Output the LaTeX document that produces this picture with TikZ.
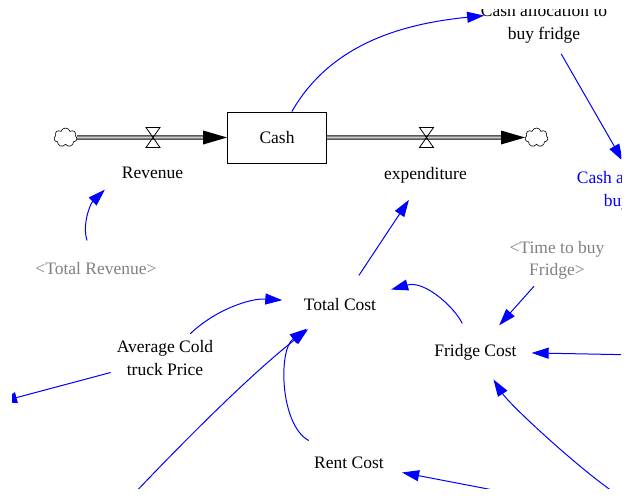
\documentclass[tikz,border=0pt]{standalone}
\usepackage{fontspec}
\setmainfont{Liberation Serif}
\usetikzlibrary{shapes.geometric,shapes.symbols,arrows.meta}

\definecolor{linkblue}{RGB}{0,0,255}
\definecolor{shadowgray}{RGB}{128,128,128}
\definecolor{pipefill}{RGB}{205,205,205}

\begin{document}
\begin{tikzpicture}[x=1pt,y=-1pt,
  every node/.style={font=\fontsize{17.5}{22.5}\selectfont},
  % invisible ellipse round each variable: links end on it
  var/.style={ellipse, inner xsep=-40pt, inner ysep=-20pt, align=center},
  ghost/.style={var, text=shadowgray},
  link/.style={draw=linkblue, line width=1pt, -{Triangle[length=17pt,width=11pt]}},
  pipe/.style={draw=black, line width=1pt, double=pipefill, double distance=2.4pt},
  valve/.style={draw=black, line width=0.8pt},
  cloudnode/.style={cloud, cloud puffs=7, draw=black, line width=0.6pt, fill=white,
    minimum width=23pt, minimum height=19pt, inner sep=0pt},
  stock/.style={draw=black, line width=0.8pt, minimum width=99pt, minimum height=51pt, inner sep=0pt}
]
\useasboundingbox (0,0) rectangle (628,495);
\clip (12,10) rectangle (621,488);

% stock, clouds and valves
\node[stock] (cash) at (277,137.5) {Cash};
\node[cloudnode] (srcL) at (65.5,137.5) {};
\node[cloudnode] (sinkR) at (536.5,137.5) {};
\coordinate (vL) at (153,137.5);
\coordinate (vR) at (426.5,137.5);

% flows
\draw[pipe, shorten >=20pt] (srcL.east) -- (cash.west);
\fill (cash.west) -- ++(-24,-7) -- ++(0,14) -- cycle;
\draw[pipe, shorten >=20pt] (cash.east) -- (sinkR.west);
\fill (sinkR.west) -- ++(-24,-7) -- ++(0,14) -- cycle;
\draw[valve] (vL) ++(-7,-10) -- ++(14,0) -- ++(-14,20) -- ++(14,0) -- cycle;
\draw[valve] (vR) ++(-7,-10) -- ++(14,0) -- ++(-14,20) -- ++(14,0) -- cycle;

% variables
\node[var, minimum width=116pt, minimum height=60pt, anchor=base] (rev) at (152.5,178) {Revenue};
\node[var, minimum width=112pt, minimum height=52pt, anchor=base] (exp) at (425.5,179) {expenditure};
\node[var, minimum width=116pt, minimum height=60pt, anchor=base] (tc) at (340,310) {Total Cost};
\node[var, minimum width=112pt, minimum height=58pt, anchor=base] (fridge) at (475.5,356) {Fridge Cost};
\node[var, minimum width=112pt, minimum height=62pt, anchor=base] (rent) at (349,468) {Rent Cost};
\node[ghost, minimum width=160pt, minimum height=55pt, anchor=base] (totrev) at (96,274) {\textless Total Revenue\textgreater};
\node[var, minimum width=130pt, minimum height=52pt] (avg) at (165,358) {Average Cold\\truck Price};
\node[ghost, minimum width=116pt, minimum height=56pt] (ttbf) at (557,260.5) {\textless Time to buy\\Fridge\textgreater};
\node[var, minimum width=124pt, minimum height=62pt] (alloc) at (544,24) {Cash allocation to\\buy fridge};
\node[var, text=linkblue, minimum width=124pt, minimum height=62pt] (allocS) at (640,191) {Cash allocation to\\buy fridge};

% loose ends of links to variables outside the view
\coordinate (leftEnd) at (0,402);
\coordinate (belowA) at (130,498);
\coordinate (belowB) at (500,491.3);
\coordinate (belowC) at (612,491);
\coordinate (rightA) at (640,355);

% links
\draw[link] (cash) .. controls (330,45) and (400,24) .. (alloc.172);
\draw[link] (alloc) -- (allocS);
\draw[link] (totrev) .. controls (82,225) and (90,204) .. (rev.200);
\draw[link] (tc) -- (exp);
\draw[link] (avg) .. controls (215,310) and (250,298) .. (tc);
\draw[link] (avg) -- (leftEnd);
\draw[link] (belowA) .. controls (185,440) and (250,375) .. (tc);
\draw[link] (rent) .. controls (280,425) and (278,350) .. (tc);
\draw[link] (fridge) .. controls (455,308) and (425,280) .. (tc);
\draw[link] (ttbf) -- (fridge);
\draw[link] (rightA) -- (fridge);
\draw[link] (belowB) -- (rent);
\draw[link] (belowC) .. controls (575,465) and (510,405) .. (fridge);
\end{tikzpicture}
\end{document}
